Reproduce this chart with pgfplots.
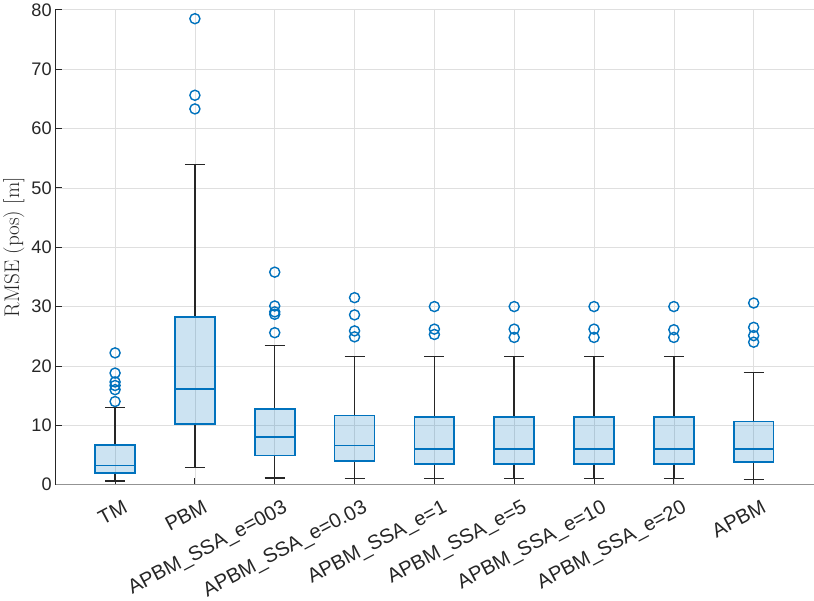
\documentclass[border=0pt]{standalone}
\usepackage{pgfplots}
\pgfplotsset{compat=1.18}
\usepgfplotslibrary{statistics}
\usepackage{fontspec}
\setsansfont{Liberation Sans}
\definecolor{mblue}{HTML}{0072BD}
\definecolor{axgray}{HTML}{262626}
\definecolor{gridgray}{HTML}{DFDFDF}

\begin{document}
\begin{tikzpicture}
\begin{axis}[
  scale only axis,
  width=749bp, height=469bp,
  xmin=0.25, xmax=9.75,
  ymin=0, ymax=80,
  xtick={1,...,9},
  xticklabels={TM,PBM,APBM\_SSA\_e=003,APBM\_SSA\_e=0.03,APBM\_SSA\_e=1,
    APBM\_SSA\_e=5,APBM\_SSA\_e=10,APBM\_SSA\_e=20,APBM},
  ytick={0,10,...,80},
  axis x line*=bottom, axis y line*=left,
  x axis line style={color=gray!85, line width=0.9pt},
  y axis line style={color=axgray, line width=0.9pt},
  tick align=inside,
  major tick length=7bp,
  tick style={axgray, line width=0.8pt},
  grid=major,
  major grid style={gridgray, line width=0.7pt},
  /pgf/number format/assume math mode=true,
  tick label style={font=\sffamily\fontsize{18}{20}\selectfont, text=axgray},
  xticklabel style={font=\sffamily\fontsize{20}{22}\selectfont, xshift=7bp, yshift=-14bp,
    rotate=28, anchor=north east, inner sep=0pt},
  ylabel={RMSE (pos) [m]},
  ylabel style={font=\fontsize{21}{24}\selectfont, text=axgray},
  boxplot/draw direction=y,
  boxplot/box extend=0.5,
  boxplot/whisker extend=0.25,
  boxplot/every box/.style={draw=mblue, fill=mblue, fill opacity=0.2, draw opacity=1, line width=1.7pt},
  boxplot/every median/.style={draw=mblue, line width=1.6pt},
  boxplot/every whisker/.style={draw=axgray, line width=1.4pt},
  mybox/.style={mark=o, mark size=5pt, mark options={draw=mblue, line width=1.4pt, solid}},
]

\addplot[mybox, boxplot prepared={draw position=1, lower whisker=0.6, lower quartile=1.97,
  median=3.25, upper quartile=6.7, upper whisker=13.0}]
  table[row sep=\\, y index=0] {y\\ 22.2\\ 18.8\\ 17.3\\ 16.7\\ 16.0\\ 14.0\\};

\addplot[mybox, boxplot prepared={draw position=2, lower whisker=2.85, lower quartile=10.2,
  median=16.15, upper quartile=28.2, upper whisker=53.9}]
  table[row sep=\\, y index=0] {y\\ 78.5\\ 65.6\\ 63.3\\};

\addplot[mybox, boxplot prepared={draw position=3, lower whisker=1.15, lower quartile=4.9,
  median=8.0, upper quartile=12.7, upper whisker=23.4}]
  table[row sep=\\, y index=0] {y\\ 35.8\\ 30.1\\ 29.1\\ 28.7\\ 25.6\\};

\addplot[mybox, boxplot prepared={draw position=4, lower whisker=1.0, lower quartile=3.95,
  median=6.6, upper quartile=11.65, upper whisker=21.6}]
  table[row sep=\\, y index=0] {y\\ 31.5\\ 28.6\\ 25.9\\ 24.9\\};

\addplot[mybox, boxplot prepared={draw position=5, lower whisker=1.0, lower quartile=3.5,
  median=6.0, upper quartile=11.4, upper whisker=21.6}]
  table[row sep=\\, y index=0] {y\\ 30.0\\ 26.2\\ 25.3\\};

\addplot[mybox, boxplot prepared={draw position=6, lower whisker=1.0, lower quartile=3.5,
  median=6.0, upper quartile=11.4, upper whisker=21.6}]
  table[row sep=\\, y index=0] {y\\ 30.0\\ 26.2\\ 24.8\\};

\addplot[mybox, boxplot prepared={draw position=7, lower whisker=1.0, lower quartile=3.5,
  median=6.0, upper quartile=11.4, upper whisker=21.6}]
  table[row sep=\\, y index=0] {y\\ 30.0\\ 26.2\\ 24.8\\};

\addplot[mybox, boxplot prepared={draw position=8, lower whisker=1.0, lower quartile=3.5,
  median=6.0, upper quartile=11.4, upper whisker=21.6}]
  table[row sep=\\, y index=0] {y\\ 30.0\\ 26.1\\ 24.8\\};

\addplot[mybox, boxplot prepared={draw position=9, lower whisker=0.85, lower quartile=3.77,
  median=5.96, upper quartile=10.63, upper whisker=18.85}]
  table[row sep=\\, y index=0] {y\\ 30.6\\ 26.5\\ 25.1\\ 24.0\\};

\end{axis}
\end{tikzpicture}
\end{document}
